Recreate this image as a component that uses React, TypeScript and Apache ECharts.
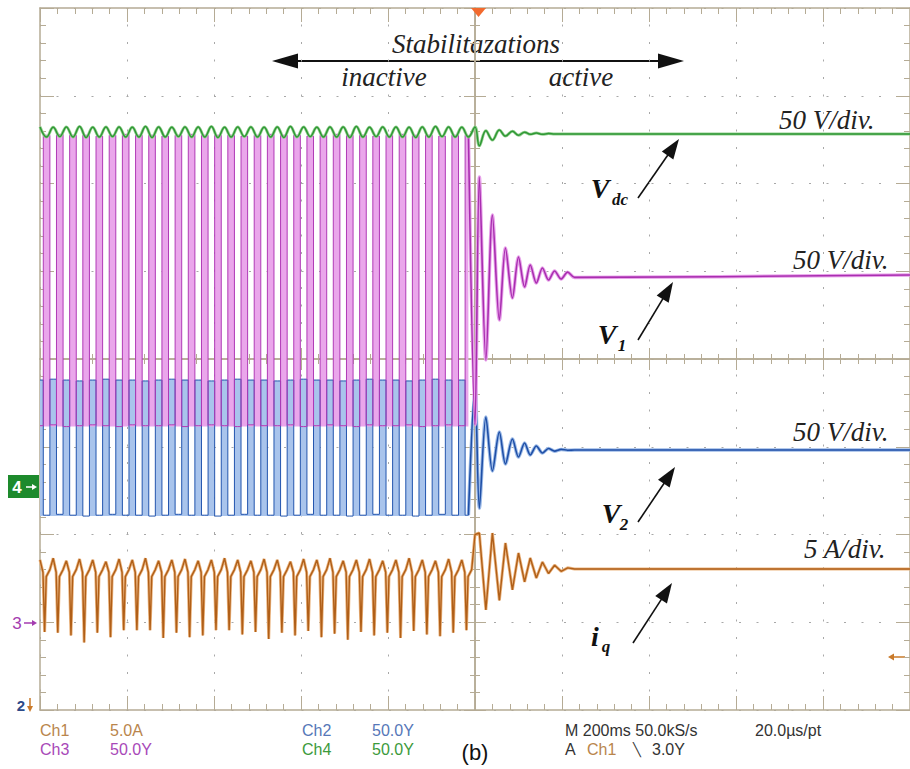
import React, { useEffect, useRef } from "react";
import * as echarts from "echarts";

// ---------------- DATA (screen divisions: time relative to trigger, amplitude relative to centre line) ----------------
const HALF_CYCLE = 5 / 66; // 33 displayed cycles before the trigger
const CYCLES = 33;

// Ch4 - Vdc (green)
const vdcPeaks = [2.645, 2.64, 2.645, 2.65, 2.64, 2.645, 2.645, 2.64, 2.65, 2.645, 2.64, 2.645, 2.645, 2.65, 2.64, 2.645, 2.645, 2.64, 2.645, 2.65, 2.645, 2.64, 2.645, 2.645, 2.65, 2.64, 2.645, 2.645, 2.64, 2.645, 2.65, 2.645, 2.64];
const vdcTroughs = [2.53, 2.535, 2.53, 2.525, 2.53, 2.535, 2.53, 2.53, 2.525, 2.53, 2.535, 2.53, 2.53, 2.525, 2.53, 2.535, 2.53, 2.53, 2.525, 2.53, 2.535, 2.53, 2.53, 2.525, 2.53, 2.535, 2.53, 2.53, 2.525, 2.53, 2.535, 2.53, 2.53];
// Ch3 - V1 (magenta)
const v1Peaks = [2.55, 2.56, 2.55, 2.55, 2.54, 2.55, 2.56, 2.55, 2.55, 2.54, 2.55, 2.56, 2.55, 2.55, 2.55, 2.54, 2.55, 2.56, 2.55, 2.55, 2.54, 2.55, 2.56, 2.55, 2.55, 2.54, 2.55, 2.56, 2.55, 2.55, 2.54, 2.55, 2.55];
const v1Troughs = [-0.76, -0.75, -0.77, -0.76, -0.75, -0.76, -0.77, -0.75, -0.76, -0.76, -0.75, -0.77, -0.76, -0.75, -0.76, -0.77, -0.75, -0.76, -0.76, -0.75, -0.77, -0.76, -0.75, -0.76, -0.77, -0.75, -0.76, -0.76, -0.75, -0.77, -0.76, -0.75, -0.76];
// Ch2 - V2 (blue)
const v2Peaks = [-0.24, -0.23, -0.24, -0.25, -0.24, -0.23, -0.24, -0.24, -0.25, -0.24, -0.23, -0.24, -0.24, -0.25, -0.24, -0.23, -0.24, -0.24, -0.25, -0.24, -0.23, -0.24, -0.24, -0.25, -0.24, -0.23, -0.24, -0.24, -0.25, -0.24, -0.23, -0.24, -0.24];
const v2Troughs = [-1.78, -1.77, -1.78, -1.79, -1.78, -1.77, -1.78, -1.78, -1.79, -1.78, -1.77, -1.78, -1.78, -1.79, -1.78, -1.77, -1.78, -1.78, -1.79, -1.78, -1.77, -1.78, -1.78, -1.79, -1.78, -1.77, -1.78, -1.78, -1.79, -1.78, -1.77, -1.78, -1.78];
// Ch1 - iq (orange)
const iqPeaks = [-2.29, -2.27, -2.30, -2.28, -2.29, -2.31, -2.28, -2.29, -2.27, -2.30, -2.29, -2.28, -2.30, -2.29, -2.27, -2.29, -2.30, -2.28, -2.29, -2.31, -2.28, -2.29, -2.27, -2.30, -2.29, -2.28, -2.30, -2.29, -2.27, -2.29, -2.30, -2.28, -2.29];
const iqSpikes = [-3.11, -3.12, -3.15, -3.23, -3.12, -3.17, -3.09, -3.09, -3.09, -3.18, -3.12, -3.17, -3.15, -3.09, -3.09, -3.14, -3.11, -3.19, -3.12, -3.15, -3.10, -3.17, -3.13, -3.20, -3.11, -3.15, -3.12, -3.18, -3.10, -3.14, -3.16, -3.12, -3.09];
const iqShoulder = -2.43;
const iqRecover = -2.48;
const iqValley = -2.4;

// after the stabilization becomes active (t = 0)
const decayTimes = [0, 0.05, 0.125, 0.2, 0.28, 0.35, 0.43, 0.5, 0.57, 0.635, 0.705, 0.775, 0.845, 0.915, 0.99, 1.065, 1.145];
const vdcDecay = [2.644, 2.43, 2.6, 2.495, 2.61, 2.54, 2.595, 2.55, 2.585, 2.56, 2.575, 2.56, 2.57, 2.565, 2.565, 2.565, 2.565];
const v1Decay = [-0.75, 2.074, -0.011, 1.641, 0.444, 1.265, 0.695, 1.162, 0.821, 1.071, 0.866, 1.037, 0.9, 1.003, 0.912, 0.99, 0.93];
const v2Decay = [-0.3, -1.7, -0.661, -1.276, -0.832, -1.197, -0.912, -1.117, -0.957, -1.094, -0.991, -1.071, -1.02, -1.05, -1.03, -1.04, -1.037];
const iqDecay = [-2.0, -1.983, -2.86, -1.983, -2.75, -2.097, -2.63, -2.211, -2.54, -2.268, -2.496, -2.313, -2.444, -2.35, -2.42, -2.38, -2.393];
const vdcSettled = 2.565;
const v1Settled = 0.957;
const v2Settled = -1.037;
const iqSettled = -2.393;

const T_START = -5;
const T_END = 5;

// ---------------- helpers ----------------
function steady(peaks: number[], troughs: number[], highOnEven: boolean) {
  const pts: number[][] = [];
  for (let k = 0; k < 2 * CYCLES; k++) {
    const c = Math.floor(k / 2);
    const high = (k % 2 === 0) === highOnEven;
    pts.push([T_START + k * HALF_CYCLE, high ? peaks[c] : troughs[c]]);
  }
  return pts;
}
function decay(values: number[], settled: number) {
  const pts = values.map((v, i) => [decayTimes[i], v]);
  pts.push([T_END, settled]);
  return pts;
}
function iqSteady() {
  const pts: number[][] = [];
  const H = HALF_CYCLE;
  for (let c = 0; c < CYCLES; c++) {
    const tc = T_START + 2 * c * H;
    pts.push([tc, iqPeaks[c]], [tc + 0.45 * H, iqShoulder], [tc + 0.7 * H, iqSpikes[c]], [tc + 0.95 * H, iqRecover], [tc + 1.5 * H, iqValley]);
  }
  return pts;
}

const AX = "#b5ab95";
const DOT = "#a8a8a8";
const SERIF = "Liberation Serif, Times New Roman, DejaVu Serif, serif";
const SANS = "Liberation Sans, Arial, sans-serif";

function arrow(x1: number, y1: number, x2: number, y2: number, color = "#111", head = 20, hw = 7, w = 1.6) {
  const dx = x2 - x1, dy = y2 - y1;
  const L = Math.hypot(dx, dy);
  const ux = dx / L, uy = dy / L;
  const bx = x2 - ux * head, by = y2 - uy * head;
  const px = -uy, py = ux;
  return [
    { type: "line", shape: { x1, y1, x2: bx + ux * 2, y2: by + uy * 2 }, style: { stroke: color, lineWidth: w } },
    { type: "polygon", shape: { points: [[x2, y2], [bx + px * hw, by + py * hw], [bx - px * hw, by - py * hw]] }, style: { fill: color } },
  ];
}
function txt(text: string, x: number, y: number, f: { family: string; size: number; style?: string; weight?: string }, fill: string, align = "left") {
  return {
    type: "text",
    x,
    y,
    style: {
      text,
      fill,
      fontFamily: f.family,
      fontSize: f.size,
      fontStyle: f.style || "normal",
      fontWeight: f.weight || "normal",
      textAlign: align,
      textVerticalAlign: "middle",
    },
  };
}

export default function App() {
  const ref = useRef<HTMLDivElement>(null);
  useEffect(() => {
    if (!ref.current) return;
    const chart = echarts.init(ref.current, undefined, { renderer: "svg" });

    const xBase = { type: "value", min: T_START, max: T_END, interval: 1, axisLabel: { show: false }, splitLine: { show: false } };
    const yBase = { type: "value", min: -4, max: 4, interval: 1, axisLabel: { show: false }, splitLine: { show: false } };
    const tick = (inside: boolean, len: number, minor: number) => ({
      axisTick: { show: true, inside, length: len, lineStyle: { color: AX, width: 1 } },
      minorTick: { show: true, splitNumber: 5, length: minor, lineStyle: { color: AX, width: 1 } },
    });
    const dotted = { show: true, lineStyle: { color: DOT, width: 1, type: [2, 15.5], dashOffset: 1 } };

    const v1S = steady(v1Peaks, v1Troughs, false);
    const v2S = steady(v2Peaks, v2Troughs, true);
    const vdcS = steady(vdcPeaks, vdcTroughs, true);
    const v1D = [v1S[v1S.length - 1], ...decay(v1Decay, v1Settled)];
    const v2D = [v2S[v2S.length - 1], ...decay(v2Decay, v2Settled)];
    const vdcAll = [...vdcS, ...decay(vdcDecay, vdcSettled)];
    const iqAll = [...iqSteady(), ...decay(iqDecay, iqSettled)];

    const base = { type: "line", showSymbol: false, symbol: "none", silent: true, animation: false, xAxisIndex: 0, yAxisIndex: 0 };

    const italic = (size: number) => ({ family: SERIF, size, style: "italic" });
    const boldItalic = (size: number) => ({ family: SERIF, size, style: "italic", weight: "bold" });
    const scope = { family: SANS, size: 16 };

    const option: any = {
      animation: false,
      backgroundColor: "#ffffff",
      grid: { left: 40, top: 8, right: -5, bottom: 59, containLabel: false },
      xAxis: [
        { ...xBase, position: "bottom", axisLine: { show: true, onZero: false, lineStyle: { color: AX, width: 1.5 } }, ...tick(true, 14, 6), splitLine: dotted },
        { ...xBase, position: "top", axisLine: { show: true, onZero: false, lineStyle: { color: AX, width: 1.5 } }, ...tick(true, 14, 6) },
        { ...xBase, position: "bottom", axisLine: { show: true, onZero: true, onZeroAxisIndex: 0, lineStyle: { color: AX, width: 1.5 } }, ...tick(true, 11, 5) },
        { ...xBase, position: "bottom", axisLine: { show: true, onZero: true, onZeroAxisIndex: 0, lineStyle: { color: AX, width: 1.5 } }, ...tick(false, 11, 5) },
      ],
      yAxis: [
        { ...yBase, position: "left", axisLine: { show: true, onZero: false, lineStyle: { color: AX, width: 1.5 } }, ...tick(true, 14, 6), splitLine: dotted },
        { ...yBase, position: "right", axisLine: { show: true, onZero: false, lineStyle: { color: AX, width: 1.5 } }, ...tick(true, 14, 6) },
        { ...yBase, position: "left", axisLine: { show: true, onZero: true, onZeroAxisIndex: 0, lineStyle: { color: AX, width: 1.5 } }, ...tick(true, 11, 5) },
        { ...yBase, position: "left", axisLine: { show: true, onZero: true, onZeroAxisIndex: 0, lineStyle: { color: AX, width: 1.5 } }, ...tick(false, 11, 5) },
      ],
      series: [
        // V2 blue
        { ...base, name: "V2", data: v2S, step: "middle", lineStyle: { color: "#2355ae", width: 1 }, areaStyle: { color: "#a9c4ec", opacity: 1, origin: -1.79 } },
        { ...base, name: "V2", data: v2D, smooth: 0.3, lineStyle: { color: "#9dbbe8", width: 3.5 } },
        { ...base, name: "V2", data: v2D, smooth: 0.3, lineStyle: { color: "#1f4fa6", width: 1.6 } },
        // V1 magenta
        { ...base, name: "V1", data: v1S, step: "middle", lineStyle: { color: "#b03ab6", width: 1 }, areaStyle: { color: "#eaa6eb", opacity: 1, origin: -0.77 } },
        { ...base, name: "V1", data: v1D, smooth: 0.3, lineStyle: { color: "#e8a3ea", width: 3.5 } },
        { ...base, name: "V1", data: v1D, smooth: 0.3, lineStyle: { color: "#a92eb0", width: 1.6 } },
        // iq orange
        { ...base, name: "iq", data: iqAll, lineStyle: { color: "#ebb580", width: 3 } },
        { ...base, name: "iq", data: iqAll, lineStyle: { color: "#b05f18", width: 1.4 } },
        // Vdc green
        { ...base, name: "Vdc", data: vdcAll, smooth: 0.4, lineStyle: { color: "#94cf90", width: 3 } },
        { ...base, name: "Vdc", data: vdcAll, smooth: 0.4, lineStyle: { color: "#2e9834", width: 1.5 } },
      ],
      graphic: [
        // trigger marker
        { type: "polygon", shape: { points: [[471, 8], [486, 8], [478.5, 17]] }, style: { fill: "#f26a2e" }, z: 100 },
        // Stabilization annotation
        txt("Stabilitazations", 476, 44, italic(27), "#222", "center"),
        ...arrow(480, 61, 684, 61, "#111", 26, 7.5, 2),
        ...arrow(480, 61, 272, 61, "#111", 26, 7.5, 2),
        txt("inactive", 384, 77, italic(27), "#222", "center"),
        txt("active", 581, 77, italic(27), "#222", "center"),
        // scale labels
        txt("50 V/div.", 779, 120, italic(27), "#222"),
        txt("50 V/div.", 793, 260, italic(27), "#222"),
        txt("50 V/div.", 793, 432, italic(27), "#222"),
        txt("5 A/div.", 804, 549, italic(27), "#222"),
        // signal labels
        txt("V", 600, 188, boldItalic(28), "#111", "center"),
        txt("dc", 620, 199, boldItalic(17), "#111", "center"),
        ...arrow(638, 198, 679, 139),
        txt("V", 607, 334, boldItalic(28), "#111", "center"),
        txt("1", 622, 345, boldItalic(17), "#111", "center"),
        ...arrow(638, 340, 673, 282),
        txt("V", 611, 513, boldItalic(28), "#111", "center"),
        txt("2", 624, 524, boldItalic(17), "#111", "center"),
        ...arrow(638, 522, 675, 467),
        txt("i", 595, 636, boldItalic(28), "#111", "center"),
        txt("q", 606, 646, boldItalic(17), "#111", "center"),
        ...arrow(633, 643, 672, 583),
        // channel markers at the left / right
        { type: "rect", shape: { x: 8, y: 475, width: 31, height: 23 }, style: { fill: "#1d8a2c" } },
        txt("4", 17, 487, { family: SANS, size: 17, weight: "bold" }, "#ffffff", "center"),
        ...arrow(26, 487, 37, 487, "#ffffff", 5, 3, 1.5),
        txt("3", 17, 623, { family: SANS, size: 17 }, "#a43cb0", "center"),
        ...arrow(24, 623, 37, 623, "#a43cb0", 5, 3, 1.5),
        txt("2", 21, 705, { family: SANS, size: 15, weight: "bold" }, "#2d4a88", "center"),
        ...arrow(30, 698, 30, 712, "#c97a2a", 6, 3, 1.5),
        ...arrow(905, 657, 888, 657, "#c97a2a", 6, 3.5, 1.5),
        // status text
        txt("Ch1", 40, 730, scope, "#b9854c"),
        txt("5.0A", 110, 730, scope, "#b9854c"),
        txt("Ch3", 40, 749, scope, "#a848b8"),
        txt("50.0Y", 110, 749, scope, "#a848b8"),
        txt("Ch2", 302, 730, scope, "#5677b8"),
        txt("50.0Y", 372, 730, scope, "#5677b8"),
        txt("Ch4", 302, 749, scope, "#3c9a3c"),
        txt("50.0Y", 372, 749, scope, "#3c9a3c"),
        txt("M 200ms 50.0kS/s", 565, 730, scope, "#333"),
        txt("20.0\u00b5s/pt", 755, 730, scope, "#333"),
        txt("A", 565, 749, scope, "#333"),
        txt("Ch1", 587, 749, scope, "#b9854c"),
        txt("\u2572", 637, 749, { family: "DejaVu Sans", size: 13 }, "#333", "center"),
        txt("3.0Y", 652, 749, scope, "#333"),
        txt("(b)", 475, 752, { family: SANS, size: 22 }, "#111", "center"),
      ],
    };
    chart.setOption(option);
    return () => chart.dispose();
  }, []);
  return <div ref={ref} style={{ width: 910, height: 769, position: "absolute", left: 0, top: 0 }} />;
}
